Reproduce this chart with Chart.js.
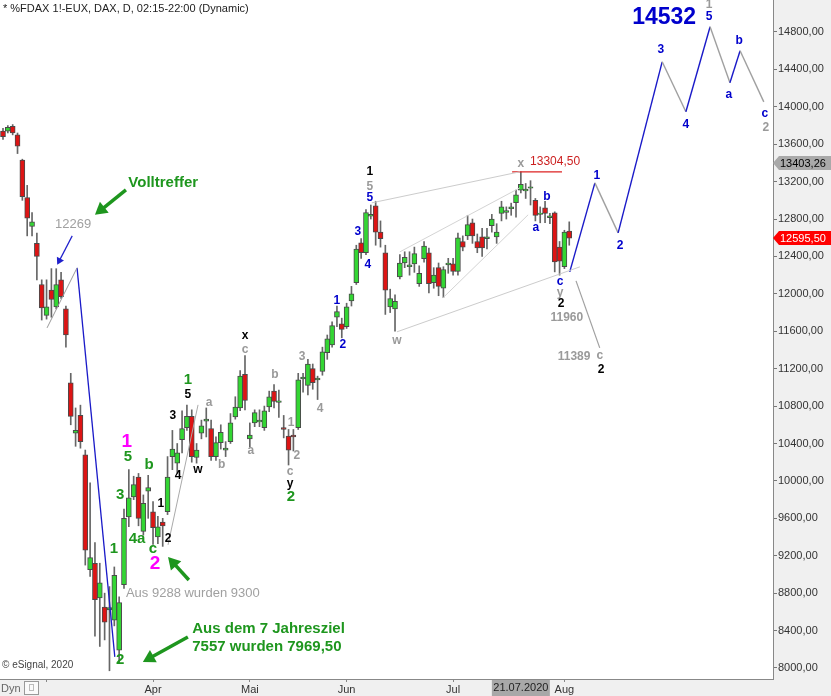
<!DOCTYPE html>
<html>
<head>
<meta charset="utf-8">
<script src="https://cdn.jsdelivr.net/npm/chart.js@4/dist/chart.umd.min.js"></script>
<style>
html,body{margin:0;padding:0;background:#f0f0f0;}
#wrap{width:831px;height:696px;}
</style>
</head>
<body>
<div id="wrap"><canvas id="dax" width="831" height="696"></canvas></div>
<script>
// FDAX daily, trading day 0 = 18.02.2020, last = 04.08.2020
var opens  = [13740,13740,13790,13700,13430,13030,12720,12540,12100,11770,12040,11860,12150,11840,11050,10510,10700,10280,9050,9120,
              8750,8650,8620,8510,8190,8890,9615,9830,10040,9460,9890,9670,9400,9560,9670,10260,10190,10440,10570,10690,
              10250,10510,10640,10560,10260,10410,10330,10420,10685,10780,11140,10450,10620,10630,10570,10790,10960,10840,10570,10480,
              10490,10570,11090,11020,11200,11080,11170,11370,11455,11750,11680,11650,11925,12120,12545,12440,12830,12940,12660,12440,
              11860,11840,12180,12330,12290,12320,12110,12375,12440,12120,12280,12060,12310,12320,12240,12560,12620,12760,12560,12610,
              12590,12730,12610,12860,12870,12910,12975,13110,13100,13130,13000,12850,12920,12815,12866,12500,12290,12670];
var highs  = [13770,13800,13810,13720,13440,13160,12870,12650,12150,12150,12270,12269,12230,11870,11150,10780,10810,10330,9980,9340,
              9120,8800,8870,9080,8760,9700,10120,10050,10080,9850,10060,9780,9620,9600,10260,10540,10400,10750,10810,10760,
              10400,10650,10780,10650,10470,10600,10420,10720,10900,11180,11340,10620,10760,10760,10800,10960,11030,10970,10700,10550,
              10550,11150,11150,11300,11250,11120,11430,11560,11700,11870,11740,11900,12080,12520,12590,12900,12950,12990,12780,12520,
              12050,11990,12420,12450,12450,12500,12300,12560,12490,12280,12330,12290,12380,12380,12650,12620,12840,12800,12640,12700,
              12700,12850,12750,12990,12930,12970,13110,13304.5,13180,13210,13020,12930,12990,12860,12877,12560,12680,12770];
var lows   = [13650,13720,13700,13500,13000,12620,12620,12150,11720,11730,11750,11840,11950,11430,10600,10370,10350,9100,8980,8340,
              8230,8300,7970,8450,8050,8850,9510,9800,9520,9420,9600,9320,9330,9300,9640,10120,10080,10300,10540,10200,
              10190,10450,10470,10220,10220,10340,10260,10400,10660,10750,10760,10360,10580,10580,10540,10740,10780,10680,10460,10170,
              10320,10550,10950,10920,10980,10870,11130,11300,11430,11650,11530,11630,11870,12100,12380,12420,12800,12520,12500,11780,
              11800,11600,12160,12280,12200,12230,12080,12340,12010,12060,11980,11960,12220,12200,12200,12460,12580,12540,12440,12400,
              12480,12660,12540,12780,12800,12840,12820,13080,13020,12950,12780,12760,12760,12750,12235,12200,12270,12520];
var closes = [13680,13780,13720,13580,13040,12810,12770,12400,11850,11860,11940,12100,11970,11560,10690,10540,10420,9260,9180,8730,
              8910,8490,8645,8990,8700,9600,9820,9960,9600,9760,9930,9500,9510,9520,10040,10340,10300,10560,10690,10260,
              10330,10590,10660,10260,10410,10520,10350,10620,10790,11120,10860,10490,10730,10650,10750,10900,10850,10855,10550,10330,
              10470,11080,11110,11250,11050,11100,11380,11520,11660,11810,11620,11860,12000,12480,12440,12870,12850,12660,12590,12040,
              11950,11920,12330,12390,12310,12430,12220,12510,12110,12200,12080,12260,12330,12240,12600,12500,12740,12620,12490,12490,
              12610,12800,12660,12930,12890,12930,13060,13170,13120,13140,12840,12860,12860,12835,12342,12350,12660,12595.5];

var monthTicks  = [9, 31, 51, 71, 93, 116];
var monthLabels = ['', 'Apr', 'Mai', 'Jun', 'Jul', 'Aug'];
var priceTicks  = [8000,8400,8800,9200,9600,10000,10400,10800,11200,11600,12000,12400,12800,13200,13600,14000,14400,14800];

// wave lines [day, price]
var preCrash   = [[9.1, 11636], [15.3, 12278]];
var crashLeg   = [[15.3, 12278], [23.1, 8118]];
var aprilLeg   = [[34.1, 9316], [40.3, 10813]];
var wedgeTop   = [[76.2, 12973], [106.8, 13305]];
var wedgeIn1   = [[82.0, 12449], [106.8, 13134]];
var wedgeIn2   = [[90.9, 11957], [108.5, 12845]];
var wedgeLow   = [[81.4, 11594], [119.2, 12289]];
var highLevel  = [[105.2, 13304.5], [115.5, 13304.5]];
var altLeg     = [[118.4, 12139], [123.3, 11422]];
var forecast   = [[117.1, 12235], [122.3, 13187], [127.1, 12652], [136.2, 14481], [141.1, 13947],
                  [146.1, 14856], [150.2, 14257], [152.3, 14599], [157.2, 14053]];

var lastTags = [[13403.26, '#a9a9a9', '#000'], [12595.5, '#ff0000', '#fff']];
var cursorDay = 107, cursorLabel = '21.07.2020';

// annotations: text, day, price, style
var notes = [
  ['Volltreffer', 33.1, 13187, 'note'],
  ['12269', 14.5, 12738, 'grayTxt'],
  ['1', 75.8, 13305, 'k'], ['5', 75.8, 13144, 's'], ['5', 75.8, 13027, 'b'],
  ['x', 107.0, 13390, 's'],
  ['b', 112.4, 13037, 'b'], ['a', 110.1, 12706, 'b'],
  ['c', 115.1, 12128, 'b'], ['y', 115.1, 12011, 's'], ['2', 115.3, 11893, 'k'],
  ['11960', 116.5, 11743, 'sNum'], ['11389', 118.0, 11326, 'sNum'],
  ['c', 123.3, 11337, 's'], ['2', 123.6, 11187, 'k'],
  ['w', 81.4, 11497, 's'],
  ['3', 73.3, 12663, 'b'], ['4', 75.4, 12310, 'b'], ['1', 69.0, 11925, 'b'], ['2', 70.2, 11454, 'b'],
  ['3', 61.8, 11326, 's'], ['4', 65.5, 10770, 's'], ['1', 59.5, 10620, 's'], ['2', 60.7, 10267, 's'],
  ['b', 56.2, 11134, 's'], ['a', 51.2, 10321, 's'], ['c', 59.3, 10096, 's'],
  ['y', 59.3, 9968, 'k'], ['2', 59.5, 9829, 'g'],
  ['x', 50.0, 11551, 'k'], ['c', 50.0, 11401, 's'],
  ['1', 38.2, 11080, 'g'], ['5', 38.2, 10920, 'k'], ['a', 42.6, 10834, 's'],
  ['3', 35.1, 10695, 'k'], ['w', 40.3, 10118, 'k'], ['b', 45.2, 10171, 's'], ['4', 36.2, 10053, 'k'],
  ['1', 25.6, 10417, 'm'], ['5', 25.8, 10257, 'g'], ['b', 30.2, 10171, 'g'], ['3', 24.2, 9850, 'g'],
  ['4a', 27.7, 9380, 'g'], ['1', 32.6, 9754, 'k'], ['c', 31.0, 9273, 'g'], ['2', 34.1, 9380, 'k'],
  ['2', 31.4, 9112, 'm'], ['1', 22.9, 9273, 'g'], ['2', 24.2, 8086, 'g'],
  ['14532', 136.6, 14952, 'big'],
  ['1', 122.7, 13262, 'b'], ['2', 127.5, 12513, 'b'], ['3', 135.95, 14610, 'b'], ['4', 141.1, 13807, 'b'],
  ['1', 145.9, 15091, 's'], ['5', 145.9, 14962, 'b'], ['b', 152.1, 14706, 'b'], ['a', 150.0, 14128, 'b'],
  ['c', 157.4, 13925, 'b'], ['2', 157.6, 13775, 's']
];
// left aligned texts
var leftNotes = [
  ['Aus 9288 wurden 9300', 25.4, 8802, 'grayTxt'],
  ['Aus dem 7 Jahresziel', 39.1, 8417, 'note'],
  ['7557 wurden 7969,50', 39.1, 8225, 'note'],
  ['13304,50', 108.9, 13412, 'redTxt']
];
// arrows: from day, from price, to day, to price, style
var arrows = [
  [25.4, 13112, 19.0, 12845, 'green'],
  [38.4, 8941, 34.1, 9187, 'green'],
  [38.2, 8332, 28.9, 8064, 'green'],
  [14.3, 12620, 11.2, 12310, 'blue']
];

var styles = {
  k:  {font: 'bold 12px Arial', color: '#000'},
  s:  {font: 'bold 12px Arial', color: '#9a9a9a'},
  b:  {font: 'bold 12px Arial', color: '#0000cc'},
  g:  {font: 'bold 15px Arial', color: '#1e961e'},
  m:  {font: 'bold 19px Arial', color: '#ff00ff'},
  sNum: {font: 'bold 12px Arial', color: '#9a9a9a'},
  note: {font: 'bold 15px Arial', color: '#1e961e'},
  grayTxt: {font: '13px Arial', color: '#a0a0a0'},
  redTxt: {font: '12px Arial', color: '#cc1f1f'},
  big: {font: 'bold 23px Arial', color: '#0000cc'}
};

var wicks = [], bodies = [], bodyColors = [];
for (var i = 0; i < opens.length; i++) {
    wicks.push({x: i, y: [lows[i], highs[i]]});
    var o = opens[i], c = closes[i];
    if (Math.abs(o - c) < 15) { c = o + (c >= o ? 15 : -15); }
    bodies.push({x: i, y: [o, c]});
    bodyColors.push(closes[i] >= opens[i] ? '#33d633' : '#dd1414');
}

function pts(arr) {
    return arr.map(function (p) { return {x: p[0], y: p[1]}; });
}
function lineSet(arr, color, width) {
    return {type: 'line', data: pts(arr), borderColor: color, borderWidth: width,
            pointRadius: 0, fill: false, tension: 0, order: 0};
}

var frame = {
    id: 'frame',
    beforeDraw: function (chart) {
        var ctx = chart.ctx, a = chart.chartArea;
        ctx.save();
        ctx.fillStyle = '#f0f0f0';
        ctx.fillRect(0, 0, chart.width, chart.height);
        ctx.fillStyle = '#ffffff';
        ctx.fillRect(a.left, a.top, a.right - a.left, a.bottom - a.top);
        ctx.restore();
    },
    afterDraw: function (chart) {
        var ctx = chart.ctx, xs = chart.scales.x, ys = chart.scales.y, a = chart.chartArea;
        ctx.save();
        ctx.textBaseline = 'middle';

        notes.forEach(function (n) {
            var st = styles[n[3]];
            ctx.font = st.font; ctx.fillStyle = st.color; ctx.textAlign = 'center';
            ctx.fillText(n[0], xs.getPixelForValue(n[1]), ys.getPixelForValue(n[2]));
        });
        leftNotes.forEach(function (n) {
            var st = styles[n[3]];
            ctx.font = st.font; ctx.fillStyle = st.color; ctx.textAlign = 'left';
            ctx.fillText(n[0], xs.getPixelForValue(n[1]), ys.getPixelForValue(n[2]));
        });

        arrows.forEach(function (ar) {
            var x1 = xs.getPixelForValue(ar[0]), y1 = ys.getPixelForValue(ar[1]);
            var x2 = xs.getPixelForValue(ar[2]), y2 = ys.getPixelForValue(ar[3]);
            var green = ar[4] === 'green';
            var col = green ? '#1e961e' : '#2020cc';
            var ang = Math.atan2(y2 - y1, x2 - x1);
            var hl = green ? 12 : 7, hw = green ? 7 : 4;
            ctx.strokeStyle = col; ctx.fillStyle = col;
            ctx.lineWidth = green ? 3.5 : 1.2;
            ctx.beginPath();
            ctx.moveTo(x1, y1);
            ctx.lineTo(x2 - Math.cos(ang) * hl * 0.8, y2 - Math.sin(ang) * hl * 0.8);
            ctx.stroke();
            ctx.beginPath();
            ctx.moveTo(x2, y2);
            ctx.lineTo(x2 - Math.cos(ang) * hl - Math.sin(ang) * hw, y2 - Math.sin(ang) * hl + Math.cos(ang) * hw);
            ctx.lineTo(x2 - Math.cos(ang) * hl + Math.sin(ang) * hw, y2 - Math.sin(ang) * hl - Math.cos(ang) * hw);
            ctx.closePath();
            ctx.fill();
        });

        // last value tags on the price axis
        ctx.font = '11px Arial';
        ctx.textAlign = 'left';
        lastTags.forEach(function (t) {
            var y = Math.round(ys.getPixelForValue(t[0]));
            ctx.fillStyle = t[1];
            ctx.beginPath();
            ctx.moveTo(a.right, y);
            ctx.lineTo(a.right + 6, y - 7);
            ctx.lineTo(chart.width, y - 7);
            ctx.lineTo(chart.width, y + 7);
            ctx.lineTo(a.right + 6, y + 7);
            ctx.closePath();
            ctx.fill();
            ctx.fillStyle = t[2];
            ctx.fillText(t[0].toFixed(2).replace('.', ','), a.right + 7, y + 1);
        });

        // cursor date on the time axis
        var cx = xs.getPixelForValue(cursorDay);
        ctx.fillStyle = '#a8a8a8';
        ctx.fillRect(cx - 29, a.bottom + 1, 58, chart.height - a.bottom - 1);
        ctx.fillStyle = '#222';
        ctx.textAlign = 'center';
        ctx.fillText(cursorLabel, cx, a.bottom + 9);

        // header, copyright, Dyn box
        ctx.textAlign = 'left';
        ctx.fillStyle = '#222';
        ctx.font = '11px Arial';
        ctx.fillText('* %FDAX 1!-EUX, DAX, D, 02:15-22:00 (Dynamic)', 3, 9);
        ctx.font = '10px Arial';
        ctx.fillStyle = '#444';
        ctx.fillText('\u00a9 eSignal, 2020', 2, 665);
        ctx.font = '11px Arial';
        ctx.fillStyle = '#666';
        ctx.fillText('Dyn', 1, 689);
        ctx.strokeStyle = '#999';
        ctx.lineWidth = 1;
        ctx.fillStyle = '#fafafa';
        ctx.fillRect(24.5, 681.5, 14, 13);
        ctx.strokeRect(24.5, 681.5, 14, 13);
        ctx.strokeStyle = '#bbb';
        ctx.strokeRect(29.5, 684.5, 4, 6);
        ctx.restore();
    }
};

var canvas = document.getElementById('dax').getContext('2d');
var daxChart = new Chart(canvas, {
    type: 'bar',
    data: {
        datasets: [
            {data: wicks, backgroundColor: '#666', barThickness: 1, grouped: false, order: 2},
            {data: bodies, backgroundColor: bodyColors, borderColor: '#4a4a4a', borderWidth: 1,
             borderSkipped: false, barThickness: 5, grouped: false, order: 1},
            lineSet(preCrash, '#9a9a9a', 1),
            lineSet(crashLeg, '#1a1ac8', 1.3),
            lineSet(aprilLeg, '#aaaaaa', 1),
            lineSet(wedgeTop, '#cccccc', 1),
            lineSet(wedgeIn1, '#d4d4d4', 1),
            lineSet(wedgeIn2, '#d4d4d4', 1),
            lineSet(wedgeLow, '#cccccc', 1),
            lineSet(highLevel, '#dd2222', 1.3),
            lineSet(altLeg, '#a0a0a0', 1.2),
            {type: 'line', data: pts(forecast), borderWidth: 1.4, pointRadius: 0, fill: false, tension: 0, order: 0,
             borderColor: '#1a1ac8',
             segment: {borderColor: function (c) { return c.p1.parsed.y > c.p0.parsed.y ? '#1a1ac8' : '#a0a0a0'; }}}
        ]
    },
    options: {
        responsive: false,
        animation: false,
        devicePixelRatio: 1,
        layout: {padding: 0},
        plugins: {legend: {display: false}, tooltip: {enabled: false}},
        scales: {
            x: {
                type: 'linear', position: 'bottom', min: -0.62, max: 159.1, offset: false,
                grid: {drawOnChartArea: false, offset: false, tickLength: 3, color: '#888'},
                border: {display: true, color: '#888'},
                ticks: {autoSkip: false, maxRotation: 0, padding: 1, color: '#333', font: {family: 'Arial', size: 11},
                        callback: function (v, idx) { return monthLabels[idx]; }},
                afterBuildTicks: function (s) { s.ticks = monthTicks.map(function (v) { return {value: v}; }); },
                afterFit: function (s) { s.height = 17; s.paddingLeft = 0; s.paddingRight = 0; }
            },
            y: {
                type: 'linear', position: 'right', min: 7882, max: 15142,
                grid: {drawOnChartArea: false, offset: false, tickLength: 4, color: '#777'},
                border: {display: true, color: '#888'},
                ticks: {padding: 1, color: '#333', font: {family: 'Arial', size: 11},
                        callback: function (v) { return v.toFixed(2).replace('.', ','); }},
                afterBuildTicks: function (s) { s.ticks = priceTicks.map(function (v) { return {value: v}; }); },
                afterFit: function (s) { s.width = 58; s.paddingTop = 0; s.paddingBottom = 0; }
            }
        }
    },
    plugins: [frame]
});
</script>
</body>
</html>
